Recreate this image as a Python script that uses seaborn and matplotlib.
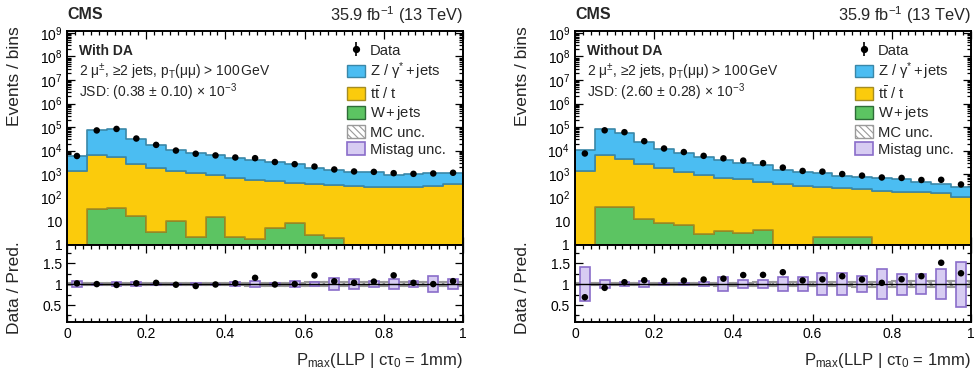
import numpy as np
import pandas as pd
import matplotlib
matplotlib.use("Agg")
import matplotlib.pyplot as plt
import seaborn as sns
from matplotlib.ticker import MultipleLocator, LogLocator, FuncFormatter, NullFormatter
from matplotlib.patches import Patch
from matplotlib.colors import to_hex

sns.set_style("ticks")
plt.rcParams["font.family"] = ["Liberation Sans", "DejaVu Sans"]
plt.rcParams["mathtext.fontset"] = "custom"
plt.rcParams["mathtext.rm"] = "Liberation Sans"
plt.rcParams["mathtext.it"] = "Liberation Sans:italic"
plt.rcParams["mathtext.bf"] = "Liberation Sans:bold"
plt.rcParams["hatch.linewidth"] = 0.8

# ---------------- data ----------------
bin_edges = [0.0, 0.05, 0.1, 0.15, 0.2, 0.25, 0.3, 0.35, 0.4, 0.45, 0.5,
             0.55, 0.6, 0.65, 0.7, 0.75, 0.8, 0.85, 0.9, 0.95, 1.0]
processes = ["Z", "tt", "W"]

# With DA
z_with = [4420, 65700, 79600, 29200, 15260, 8820, 6630, 5390, 4280, 3560,
          2800, 2220, 1360, 1135, 950, 890, 630, 725, 770, 690]
tt_with = [1380, 6270, 5365, 2783, 1737, 1370, 1068, 895, 718, 588,
           495, 422, 377, 343, 310, 290, 280, 275, 300, 380]
w_with = [0, 33, 35, 17, 3.4, 10, 2.1, 15, 2.1, 1.8,
          5.4, 8.2, 2.6, 2.0, 0, 0, 0, 0, 0, 0]
data_with = [5900, 72000, 83300, 32600, 17500, 10050, 7350, 6240, 5100, 4770,
             3270, 2650, 2100, 1580, 1300, 1250, 1100, 1030, 1070, 1145]
mcunc_with = [0.03, 0.02, 0.02, 0.025, 0.025, 0.025, 0.03, 0.03, 0.03, 0.035,
              0.035, 0.035, 0.04, 0.04, 0.045, 0.045, 0.05, 0.05, 0.05, 0.05]
mistag_with = [0.07, 0.01, 0.045, 0.055, 0.01, 0.01, 0.03, 0.01, 0.045, 0.07,
               0.03, 0.08, 0.05, 0.14, 0.12, 0.07, 0.12, 0.08, 0.19, 0.11]

# Without DA
z_without = [9620, 73700, 53400, 20200, 9660, 6820, 4490, 3430, 2480, 1925,
             1100, 940, 860, 600, 555, 510, 440, 305, 228, 180]
tt_without = [1380, 6258, 4558, 2787, 1732, 1173, 907, 716, 617, 471,
              380, 320, 288, 248, 223, 190, 180, 170, 152, 110]
w_without = [0, 42, 42, 13, 8.2, 7, 2.8, 3.9, 3.1, 4.3,
             0, 0, 2.1, 2.2, 2.2, 0, 0, 0, 0, 0]
data_without = [7540, 72800, 60600, 25100, 12300, 8680, 5990, 4690, 3770, 2930,
                1900, 1370, 1280, 1010, 866, 721, 691, 565, 574, 365]
mcunc_without = [0.03, 0.02, 0.02, 0.025, 0.025, 0.03, 0.03, 0.035, 0.035, 0.04,
                 0.045, 0.05, 0.05, 0.055, 0.06, 0.06, 0.065, 0.07, 0.075, 0.08]
mistag_without = [0.41, 0.10, 0.05, 0.07, 0.02, 0.02, 0.05, 0.16, 0.095, 0.10,
                  0.17, 0.17, 0.26, 0.27, 0.20, 0.35, 0.25, 0.23, 0.36, 0.54]

panel_titles = ["With DA", "Without DA"]
jsd_texts = [r"JSD: (0.38$\,\pm\,$0.10)$\,\times\,$10$^{-3}$",
             r"JSD: (2.60$\,\pm\,$0.28)$\,\times\,$10$^{-3}$"]
selection_text = r"2 μ$^{\pm}$, ≥2 jets, p$_{\mathrm{T}}$(μμ) > 100$\,$GeV"
legend_labels = ["Data", r"Z / γ$^{*}$$\,$+$\,$jets", r"$\mathrm{t\bar{t}}$ / t",
                 r"W$\,$+$\,$jets", "MC unc.", "Mistag unc."]

# ---------------- style ----------------
c_face = {"Z": "#4bbdf2", "tt": "#fbcb0c", "W": "#5cc462"}
c_edge = {"Z": "#3a87a8", "tt": "#a58d22", "W": "#2e6c38"}
mis_face = "#d7ccf2"
mis_edge = "#8a6dca"
mc_edge = "#9a9a9a"

fig = plt.figure(figsize=(9.8, 3.72), dpi=100)

edges = np.array(bin_edges)
centers = 0.5 * (edges[:-1] + edges[1:])


def logfmt(v, pos):
    e = int(round(np.log10(v)))
    if e == 0:
        return "1"
    if e == 1:
        return "10"
    return r"$10^{%d}$" % e


def draw_panel(x0, z, tt, w, data, mcunc, mistag, title, jsd):
    ax = fig.add_axes([x0, 0.342, 0.404, 0.5746])
    axr = fig.add_axes([x0, 0.134, 0.404, 0.208])

    z = np.array(z, float)
    tt = np.array(tt, float)
    w = np.array(w, float)
    data = np.array(data, float)
    total = z + tt + w

    df = pd.DataFrame({
        "x": np.tile(centers, 3),
        "wt": np.concatenate([z, tt, w]),
        "proc": ["Z"] * len(z) + ["tt"] * len(tt) + ["W"] * len(w),
    })
    sns.histplot(data=df, x="x", weights="wt", hue="proc", hue_order=processes,
                 bins=list(bin_edges), multiple="stack", element="step", fill=True,
                 palette=c_face, alpha=1, linewidth=1.2, legend=False, ax=ax)
    face2proc = {to_hex(c): p for p, c in c_face.items()}
    for coll in ax.collections:
        fc = coll.get_facecolor()
        if len(fc):
            p = face2proc.get(to_hex(fc[0][:3]))
            if p:
                coll.set_edgecolor(c_edge[p])
                coll.set_linewidth(1.2)
    ax.set_yscale("log")
    sns.scatterplot(x=centers, y=data, color="k", s=22, edgecolor="none",
                    ax=ax, zorder=5)
    ax.set_xlim(0, 1)
    ax.set_ylim(1, 1.2e9)
    ax.yaxis.set_major_locator(LogLocator(base=10, numticks=20))
    ax.yaxis.set_minor_locator(LogLocator(base=10, subs=np.arange(2, 10), numticks=20))
    ax.yaxis.set_major_formatter(FuncFormatter(logfmt))
    ax.yaxis.set_minor_formatter(NullFormatter())
    ax.xaxis.set_major_locator(MultipleLocator(0.2))
    ax.xaxis.set_minor_locator(MultipleLocator(0.02))
    ax.tick_params(labelbottom=False)
    ax.set_xlabel("")
    ax.set_ylabel("Events / bins", fontsize=12.5, loc="top")
    ax.yaxis.set_label_coords(-0.114, 1.02)

    # legend
    eb = ax.errorbar([np.nan], [np.nan], yerr=[1], fmt="o", color="k", ms=4.2,
                     elinewidth=1.2, capsize=0)
    handles = [eb,
               Patch(facecolor=c_face["Z"], edgecolor=c_edge["Z"]),
               Patch(facecolor=c_face["tt"], edgecolor=c_edge["tt"]),
               Patch(facecolor=c_face["W"], edgecolor=c_edge["W"]),
               Patch(facecolor="white", edgecolor=mc_edge, hatch="\\\\\\\\\\"),
               Patch(facecolor=mis_face, edgecolor=mis_edge, lw=1.2)]
    ax.legend(handles, legend_labels, loc="upper left",
              bbox_to_anchor=(0.707, 0.943), frameon=False, fontsize=10.6,
              handlelength=1.2, handleheight=0.95, handletextpad=0.35,
              labelspacing=0.19, borderpad=0, borderaxespad=0)

    ax.text(0.03, 0.908, title, transform=ax.transAxes, fontsize=10,
            fontweight="bold", va="center", ha="left")
    ax.text(0.03, 0.81, selection_text, transform=ax.transAxes, fontsize=10,
            va="center", ha="left")
    ax.text(0.03, 0.715, jsd, transform=ax.transAxes, fontsize=10,
            va="center", ha="left")
    ax.text(0.0, 1.075, "CMS", transform=ax.transAxes, fontsize=11.5,
            fontweight="bold", va="center", ha="left")
    ax.text(1.0, 1.075, r"35.9 fb$^{-1}$ (13 TeV)", transform=ax.transAxes,
            fontsize=11.8, va="center", ha="right")

    # ratio panel
    mcunc = np.array(mcunc, float)
    mistag = np.array(mistag, float)
    axr.bar(centers, 2 * mcunc, bottom=1 - mcunc, width=0.05, facecolor="none",
            edgecolor=mc_edge, hatch="\\\\\\\\\\", linewidth=1.5, zorder=1)
    axr.bar(centers, 2 * mistag, bottom=1 - mistag, width=0.025,
            facecolor=mis_face, edgecolor=mis_edge, linewidth=1.2, zorder=2)
    axr.axhline(1, color="k", lw=1.0, zorder=3)
    sns.scatterplot(x=centers, y=data / total, color="k", s=22,
                    edgecolor="none", ax=axr, zorder=4)
    axr.set_xlim(0, 1)
    axr.set_ylim(0.09, 1.94)
    axr.yaxis.set_major_locator(MultipleLocator(0.5))
    axr.yaxis.set_minor_locator(MultipleLocator(0.25))
    axr.xaxis.set_major_locator(MultipleLocator(0.2))
    axr.xaxis.set_minor_locator(MultipleLocator(0.02))
    fmt = FuncFormatter(lambda v, p: f"{v:g}")
    axr.xaxis.set_major_formatter(fmt)
    axr.yaxis.set_major_formatter(fmt)
    axr.set_ylabel("Data / Pred.", fontsize=12.5)
    axr.yaxis.set_label_coords(-0.114, 0.44)
    axr.set_xlabel(r"P$_{\mathrm{max}}$(LLP | cτ$_{0}$ = 1mm)", fontsize=12,
                   loc="right")
    axr.xaxis.set_label_coords(1.0, -0.37)

    for a in (ax, axr):
        a.tick_params(which="both", direction="in", top=True, right=True,
                      labelsize=10, width=0.9, colors="k")
        a.tick_params(which="major", length=6)
        a.tick_params(which="minor", length=3)
        for s in a.spines.values():
            s.set_linewidth(1.4)
            s.set_color("k")
    return ax, axr


draw_panel(0.0684, z_with, tt_with, w_with, data_with, mcunc_with, mistag_with,
           panel_titles[0], jsd_texts[0])
draw_panel(0.5867, z_without, tt_without, w_without, data_without, mcunc_without,
           mistag_without, panel_titles[1], jsd_texts[1])

fig.savefig("out.png", dpi=100)
